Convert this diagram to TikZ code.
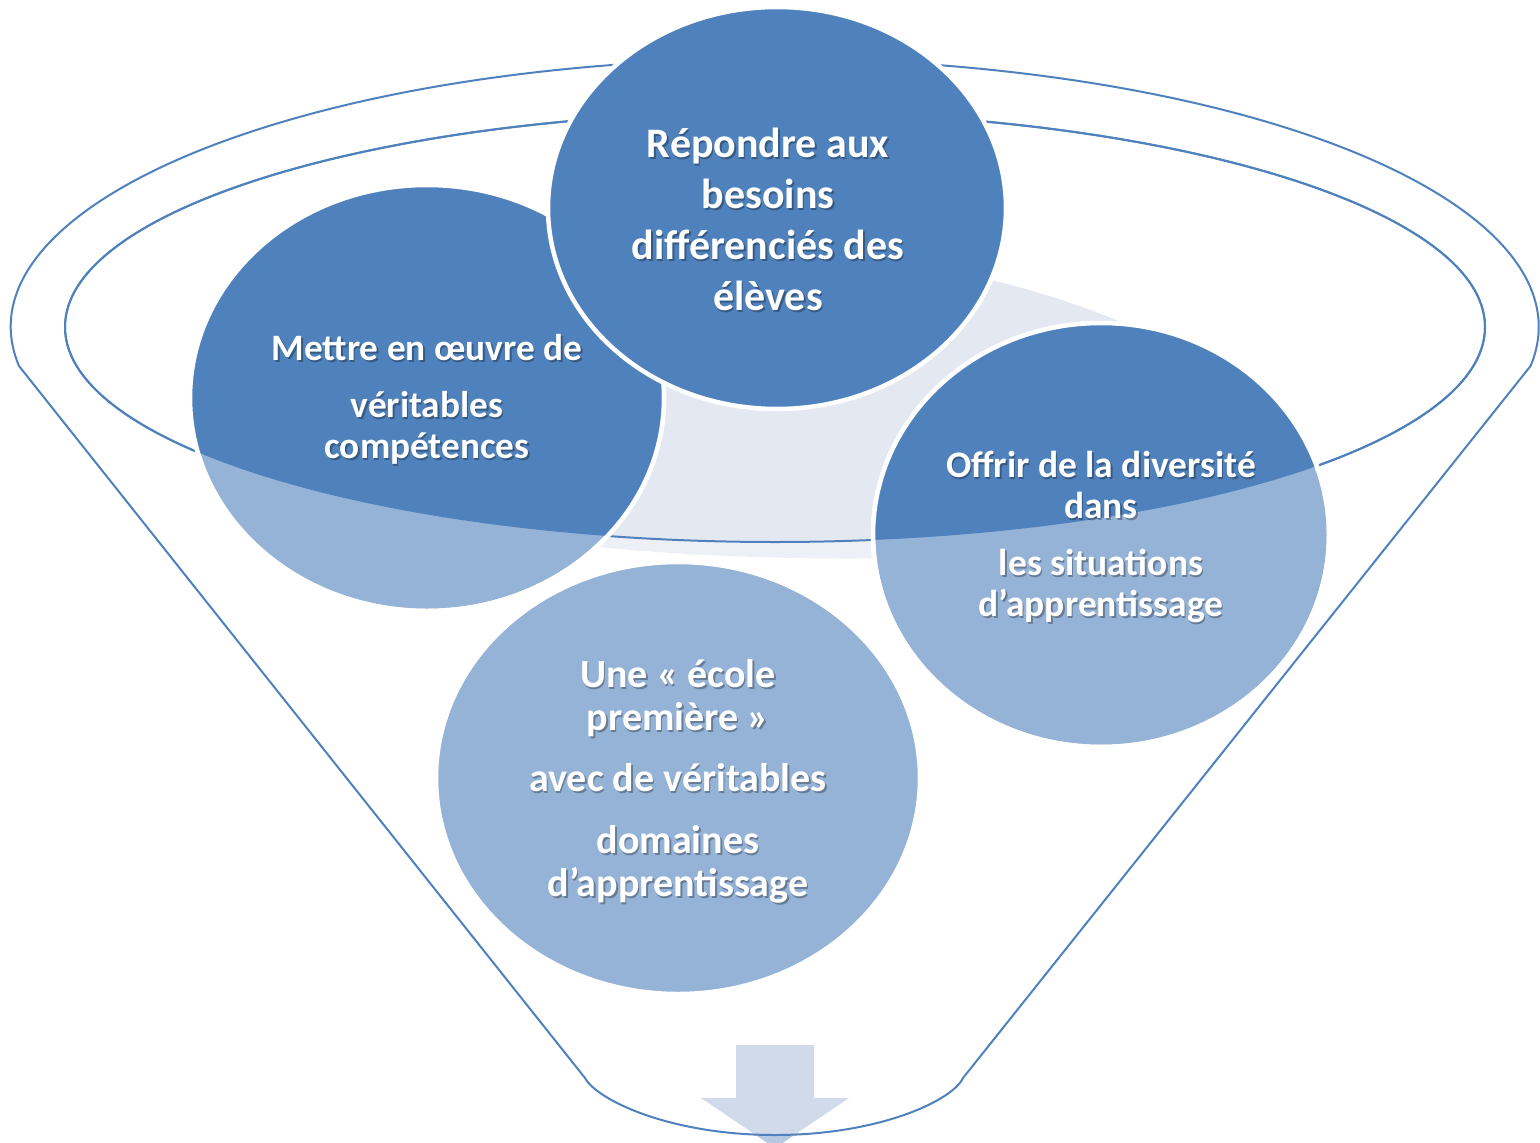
\documentclass[tikz,border=0pt]{standalone}
\usepackage{fontspec}
\setmainfont{Carlito}
\definecolor{dkblue}{HTML}{4F81BD}
\definecolor{ltblue}{HTML}{95B3D7}
\definecolor{grdark}{HTML}{E3E8F1}
\definecolor{grlight}{HTML}{EDF1F7}
\definecolor{arrowlt}{HTML}{D0DAEA}
\definecolor{arrowdk}{HTML}{B7C8E2}
\newcommand\bubbletext[4]{%
  \node[lblshadow, font=#3, xshift=1.5pt, yshift=-2pt] (#1-shadow) at (#2) {#4};
  \node[lbl, font=#3] (#1) at (#2) {#4};}
\newcommand\graypath{(700,300) -- (900,262) .. controls (1000,278) and (1100,305) .. (1200,360) -- (1050,450) -- (900,540) -- (900,558) .. controls (800,560) and (680,556) .. (590,546) -- (560,400) -- cycle}
\newcommand\mouth{(cE) ellipse[x radius=710, y radius=215]}
\begin{document}
\begin{tikzpicture}[x=1pt,y=-1pt,
  funnelline/.style={draw=dkblue, line width=2pt},
  bubble/.style={line width=4.5pt, draw=white},
  lbl/.style={text=white, align=center, inner sep=0pt},
  lblshadow/.style={text=black, opacity=0.3, align=center, inner sep=0pt},
]
\useasboundingbox (0,0) rectangle (1540,1143);

\coordinate (cT) at (777,208);
\coordinate (cL) at (427,398);
\coordinate (cR) at (1101,535);
\coordinate (cB) at (678,778);
\coordinate (cE) at (775,327);

% arrow
\fill[arrowlt] (736,1045) -- (814,1045) -- (814,1098) -- (849,1098) -- (775,1148) -- (701,1098) -- (736,1098) -- cycle;
\begin{scope}
  \clip (585,1078) .. controls (597,1100) and (670,1135) .. (775,1135) .. controls (880,1135) and (953,1100) .. (963,1078) -- (963,1160) -- (585,1160) -- cycle;
  \fill[arrowdk] (736,1045) -- (814,1045) -- (814,1098) -- (849,1098) -- (775,1148) -- (701,1098) -- (736,1098) -- cycle;
\end{scope}

% funnel outline
\draw[funnelline] (19,366) arc[start angle=171.6, end angle=368.4, x radius=764, y radius=268]
  -- (963,1078) .. controls (953,1100) and (880,1135) .. (775,1135)
  .. controls (670,1135) and (597,1100) .. (585,1078) -- cycle;
\draw[funnelline] \mouth;

% gray background shape
\fill[grlight] \graypath;
\begin{scope}
  \clip \mouth;
  \fill[grdark] \graypath;
\end{scope}
\draw[funnelline] \mouth;

% circles (light phase)
\filldraw[bubble, fill=ltblue] (cL) ellipse[x radius=237, y radius=213];
\filldraw[bubble, fill=ltblue] (cR) ellipse[x radius=228, y radius=212];
\filldraw[bubble, fill=ltblue] (cB) ellipse[x radius=242, y radius=216];
% darker phase inside the funnel mouth
\begin{scope}
  \clip \mouth;
  \fill[dkblue] (cL) ellipse[x radius=237, y radius=213];
  \fill[dkblue] (cR) ellipse[x radius=228, y radius=212];
\end{scope}
\draw[bubble] (cL) ellipse[x radius=237, y radius=213];
\draw[bubble] (cR) ellipse[x radius=228, y radius=212];
% top circle
\filldraw[bubble, fill=dkblue] (cT) ellipse[x radius=229, y radius=201];

% texts
\bubbletext{tTop}{768,219}{\bfseries\fontsize{42}{51}\selectfont}{Répondre aux\\besoins\\différenciés des\\élèves}
\bubbletext{tLeft}{427,399}{\bfseries\fontsize{37.3}{41}\selectfont}{Mettre en œuvre de\\[16pt]véritables\\compétences}
\bubbletext{tRight}{1101,537}{\bfseries\fontsize{37.5}{41}\selectfont}{Offrir de la diversité\\dans\\[16pt]les situations\\d’apprentissage}
\bubbletext{tBottom}{678,781}{\bfseries\fontsize{40}{43}\selectfont}{Une «~école\\première~»\\[18pt]avec de véritables\\[19pt]domaines\\d’apprentissage}
\end{tikzpicture}
\end{document}
